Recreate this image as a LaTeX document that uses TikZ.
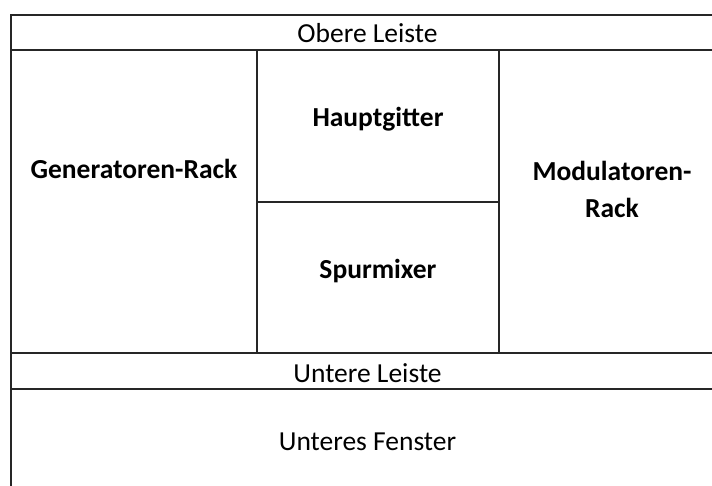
\documentclass[tikz,border=0pt]{standalone}
\usepackage{fontspec}
\setmainfont{Carlito}
\tikzset{
  frame/.style={draw=black!85, line width=1.4pt},
  label/.style={font=\fontsize{27.5}{37}\selectfont, anchor=base, inner sep=0pt, align=center},
  boldlabel/.style={label, font=\fontsize{27.5}{37}\selectfont\bfseries}
}
\begin{document}
\begin{tikzpicture}[x=1pt,y=-1pt]
\useasboundingbox (0,0) rectangle (712,486);
\fill[white] (0,0) rectangle (712,486);
\begin{scope}
\clip (0,0) rectangle (712,486);
\draw[frame] (11,15) rectangle (724,495);
\draw[frame] (11,50) -- (724,50);
\draw[frame] (11,353) -- (724,353);
\draw[frame] (11,389) -- (724,389);
\draw[frame] (257,50) -- (257,353);
\draw[frame] (499,50) -- (499,353);
\draw[frame] (257,202) -- (499,202);
\end{scope}
\node[label] (obere) at (367.5,43) {Obere Leiste};
\node[boldlabel] (gen) at (134,178.5) {Generatoren-Rack};
\node[boldlabel] (haupt) at (378,127) {Hauptgitter};
\node[boldlabel] (spur) at (378,279) {Spurmixer};
\node[boldlabel, anchor=north] (mod) at (612,161) {Modulatoren-\\Rack};
\node[label] (untere) at (367.5,382) {Untere Leiste};
\node[label] (fenster) at (367.5,450) {Unteres Fenster};
\end{tikzpicture}
\end{document}
